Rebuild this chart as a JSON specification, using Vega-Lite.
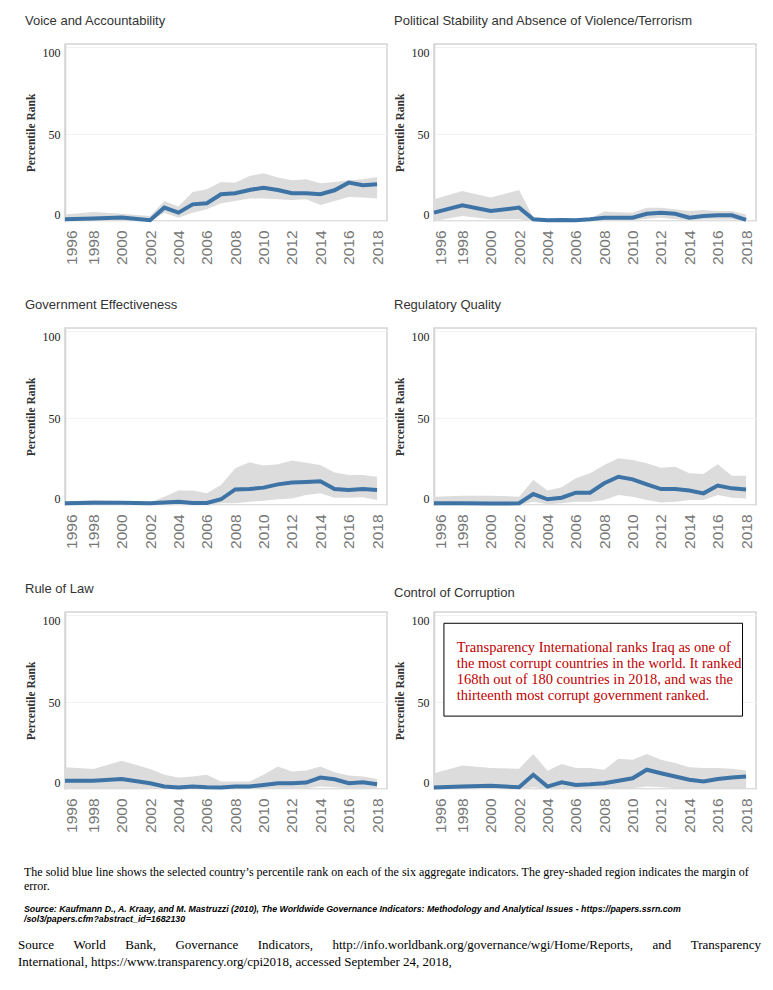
{
  "$schema": "https://vega.github.io/schema/vega-lite/v6.json",
  "background": "white",
  "padding": {"left": 18, "top": 14, "right": 0, "bottom": 0},
  "data": {
    "values": [
      {"indicator": "Voice and Accountability", "year": 1996, "rank": 1, "lower": 0, "upper": 3.8},
      {"indicator": "Voice and Accountability", "year": 1998, "rank": 1.5, "lower": 0, "upper": 5.2},
      {"indicator": "Voice and Accountability", "year": 2000, "rank": 2, "lower": 0, "upper": 4.2},
      {"indicator": "Voice and Accountability", "year": 2002, "rank": 0.5, "lower": 0, "upper": 2.9},
      {"indicator": "Voice and Accountability", "year": 2003, "rank": 7.7, "lower": 4.8, "upper": 11.5},
      {"indicator": "Voice and Accountability", "year": 2004, "rank": 4.8, "lower": 1.9, "upper": 8.3},
      {"indicator": "Voice and Accountability", "year": 2005, "rank": 9.6, "lower": 4.8, "upper": 16.7},
      {"indicator": "Voice and Accountability", "year": 2006, "rank": 10.2, "lower": 6.7, "upper": 18.3},
      {"indicator": "Voice and Accountability", "year": 2007, "rank": 15.4, "lower": 10.2, "upper": 22.5},
      {"indicator": "Voice and Accountability", "year": 2008, "rank": 16, "lower": 11.5, "upper": 22.1},
      {"indicator": "Voice and Accountability", "year": 2009, "rank": 17.9, "lower": 13, "upper": 26},
      {"indicator": "Voice and Accountability", "year": 2010, "rank": 19.2, "lower": 12.9, "upper": 27.5},
      {"indicator": "Voice and Accountability", "year": 2011, "rank": 17.9, "lower": 12.5, "upper": 25},
      {"indicator": "Voice and Accountability", "year": 2012, "rank": 16, "lower": 12.1, "upper": 23.5},
      {"indicator": "Voice and Accountability", "year": 2013, "rank": 16, "lower": 12.5, "upper": 24},
      {"indicator": "Voice and Accountability", "year": 2014, "rank": 15.4, "lower": 9.2, "upper": 21.7},
      {"indicator": "Voice and Accountability", "year": 2015, "rank": 17.7, "lower": 11.5, "upper": 22.5},
      {"indicator": "Voice and Accountability", "year": 2016, "rank": 22.1, "lower": 13.8, "upper": 23.5},
      {"indicator": "Voice and Accountability", "year": 2017, "rank": 20.6, "lower": 13.5, "upper": 24},
      {"indicator": "Voice and Accountability", "year": 2018, "rank": 21.2, "lower": 12.9, "upper": 25.4},

      {"indicator": "Political Stability", "year": 1996, "rank": 4.8, "lower": 0, "upper": 12.5},
      {"indicator": "Political Stability", "year": 1998, "rank": 9, "lower": 2.9, "upper": 17.3},
      {"indicator": "Political Stability", "year": 2000, "rank": 5.8, "lower": 1, "upper": 13.5},
      {"indicator": "Political Stability", "year": 2002, "rank": 7.7, "lower": 1, "upper": 17.9},
      {"indicator": "Political Stability", "year": 2003, "rank": 1, "lower": 0, "upper": 1.9},
      {"indicator": "Political Stability", "year": 2004, "rank": 0.4, "lower": 0, "upper": 1},
      {"indicator": "Political Stability", "year": 2005, "rank": 0.6, "lower": 0, "upper": 1},
      {"indicator": "Political Stability", "year": 2006, "rank": 0.4, "lower": 0, "upper": 1},
      {"indicator": "Political Stability", "year": 2007, "rank": 1, "lower": 0, "upper": 1.5},
      {"indicator": "Political Stability", "year": 2008, "rank": 1.9, "lower": 0.4, "upper": 5.5},
      {"indicator": "Political Stability", "year": 2009, "rank": 1.9, "lower": 0.5, "upper": 5},
      {"indicator": "Political Stability", "year": 2010, "rank": 1.9, "lower": 0.5, "upper": 4.8},
      {"indicator": "Political Stability", "year": 2011, "rank": 4.2, "lower": 1.3, "upper": 7.7},
      {"indicator": "Political Stability", "year": 2012, "rank": 4.8, "lower": 1.9, "upper": 7.7},
      {"indicator": "Political Stability", "year": 2013, "rank": 4.2, "lower": 1, "upper": 6.7},
      {"indicator": "Political Stability", "year": 2014, "rank": 1.9, "lower": 0.5, "upper": 5.8},
      {"indicator": "Political Stability", "year": 2015, "rank": 2.9, "lower": 0.8, "upper": 6.3},
      {"indicator": "Political Stability", "year": 2016, "rank": 3.3, "lower": 0.8, "upper": 5.8},
      {"indicator": "Political Stability", "year": 2017, "rank": 3.3, "lower": 0.8, "upper": 5.8},
      {"indicator": "Political Stability", "year": 2018, "rank": 0.6, "lower": 0, "upper": 3.8},

      {"indicator": "Government Effectiveness", "year": 1996, "rank": 1, "lower": 0, "upper": 1.9},
      {"indicator": "Government Effectiveness", "year": 1998, "rank": 1.3, "lower": 0, "upper": 2.9},
      {"indicator": "Government Effectiveness", "year": 2000, "rank": 1.3, "lower": 0, "upper": 2.3},
      {"indicator": "Government Effectiveness", "year": 2002, "rank": 1, "lower": 0, "upper": 1.5},
      {"indicator": "Government Effectiveness", "year": 2003, "rank": 1.5, "lower": 0, "upper": 4.8},
      {"indicator": "Government Effectiveness", "year": 2004, "rank": 1.9, "lower": 0, "upper": 8.3},
      {"indicator": "Government Effectiveness", "year": 2005, "rank": 1.2, "lower": 0, "upper": 8.3},
      {"indicator": "Government Effectiveness", "year": 2006, "rank": 1.2, "lower": 0, "upper": 6.7},
      {"indicator": "Government Effectiveness", "year": 2007, "rank": 3.3, "lower": 1, "upper": 11.5},
      {"indicator": "Government Effectiveness", "year": 2008, "rank": 9, "lower": 1, "upper": 21.2},
      {"indicator": "Government Effectiveness", "year": 2009, "rank": 9.2, "lower": 1.9, "upper": 24.6},
      {"indicator": "Government Effectiveness", "year": 2010, "rank": 10, "lower": 2.5, "upper": 22.7},
      {"indicator": "Government Effectiveness", "year": 2011, "rank": 11.9, "lower": 3.3, "upper": 23.5},
      {"indicator": "Government Effectiveness", "year": 2012, "rank": 12.9, "lower": 3.8, "upper": 25.6},
      {"indicator": "Government Effectiveness", "year": 2013, "rank": 13.3, "lower": 5.8, "upper": 24.4},
      {"indicator": "Government Effectiveness", "year": 2014, "rank": 13.7, "lower": 6.7, "upper": 23},
      {"indicator": "Government Effectiveness", "year": 2015, "rank": 9.2, "lower": 4.2, "upper": 18.7},
      {"indicator": "Government Effectiveness", "year": 2016, "rank": 8.7, "lower": 4.2, "upper": 17.3},
      {"indicator": "Government Effectiveness", "year": 2017, "rank": 9.2, "lower": 4.4, "upper": 17.3},
      {"indicator": "Government Effectiveness", "year": 2018, "rank": 8.7, "lower": 2.9, "upper": 16.3},

      {"indicator": "Regulatory Quality", "year": 1996, "rank": 1, "lower": 0, "upper": 4.8},
      {"indicator": "Regulatory Quality", "year": 1998, "rank": 1, "lower": 0, "upper": 5.4},
      {"indicator": "Regulatory Quality", "year": 2000, "rank": 0.8, "lower": 0, "upper": 5.4},
      {"indicator": "Regulatory Quality", "year": 2002, "rank": 1, "lower": 0, "upper": 4.8},
      {"indicator": "Regulatory Quality", "year": 2003, "rank": 6.3, "lower": 1.9, "upper": 14.4},
      {"indicator": "Regulatory Quality", "year": 2004, "rank": 3.3, "lower": 0.4, "upper": 8.3},
      {"indicator": "Regulatory Quality", "year": 2005, "rank": 4.2, "lower": 1, "upper": 10.2},
      {"indicator": "Regulatory Quality", "year": 2006, "rank": 7.1, "lower": 1.9, "upper": 15.4},
      {"indicator": "Regulatory Quality", "year": 2007, "rank": 7.1, "lower": 1.9, "upper": 18.3},
      {"indicator": "Regulatory Quality", "year": 2008, "rank": 12.5, "lower": 2.9, "upper": 23},
      {"indicator": "Regulatory Quality", "year": 2009, "rank": 16.3, "lower": 5.8, "upper": 26.9},
      {"indicator": "Regulatory Quality", "year": 2010, "rank": 14.8, "lower": 4.8, "upper": 26},
      {"indicator": "Regulatory Quality", "year": 2011, "rank": 11.9, "lower": 2.9, "upper": 24},
      {"indicator": "Regulatory Quality", "year": 2012, "rank": 9.2, "lower": 1.5, "upper": 21.5},
      {"indicator": "Regulatory Quality", "year": 2013, "rank": 9.2, "lower": 1.9, "upper": 22.1},
      {"indicator": "Regulatory Quality", "year": 2014, "rank": 8.3, "lower": 2.9, "upper": 18.3},
      {"indicator": "Regulatory Quality", "year": 2015, "rank": 6.7, "lower": 2.9, "upper": 17.9},
      {"indicator": "Regulatory Quality", "year": 2016, "rank": 11.2, "lower": 5.8, "upper": 23.5},
      {"indicator": "Regulatory Quality", "year": 2017, "rank": 9.6, "lower": 4.2, "upper": 16.9},
      {"indicator": "Regulatory Quality", "year": 2018, "rank": 9, "lower": 3.8, "upper": 16.9},

      {"indicator": "Rule of Law", "year": 1996, "rank": 4.8, "lower": 0, "upper": 12.5},
      {"indicator": "Rule of Law", "year": 1998, "rank": 4.8, "lower": 0, "upper": 11.5},
      {"indicator": "Rule of Law", "year": 2000, "rank": 5.8, "lower": 0, "upper": 16.3},
      {"indicator": "Rule of Law", "year": 2002, "rank": 3.3, "lower": 0, "upper": 11.5},
      {"indicator": "Rule of Law", "year": 2003, "rank": 1.4, "lower": 0, "upper": 8.2},
      {"indicator": "Rule of Law", "year": 2004, "rank": 0.8, "lower": 0, "upper": 6.6},
      {"indicator": "Rule of Law", "year": 2005, "rank": 1.4, "lower": 0, "upper": 7.2},
      {"indicator": "Rule of Law", "year": 2006, "rank": 1, "lower": 0, "upper": 8.2},
      {"indicator": "Rule of Law", "year": 2007, "rank": 0.8, "lower": 0, "upper": 4.3},
      {"indicator": "Rule of Law", "year": 2008, "rank": 1.4, "lower": 0, "upper": 4.3},
      {"indicator": "Rule of Law", "year": 2009, "rank": 1.4, "lower": 0, "upper": 4.3},
      {"indicator": "Rule of Law", "year": 2010, "rank": 2.3, "lower": 0, "upper": 8.2},
      {"indicator": "Rule of Law", "year": 2011, "rank": 3.3, "lower": 0, "upper": 13},
      {"indicator": "Rule of Law", "year": 2012, "rank": 3.3, "lower": 0.5, "upper": 10.1},
      {"indicator": "Rule of Law", "year": 2013, "rank": 3.7, "lower": 0.5, "upper": 10.7},
      {"indicator": "Rule of Law", "year": 2014, "rank": 6.6, "lower": 1.5, "upper": 13},
      {"indicator": "Rule of Law", "year": 2015, "rank": 5.6, "lower": 1, "upper": 9.7},
      {"indicator": "Rule of Law", "year": 2016, "rank": 3.3, "lower": 0.5, "upper": 7.8},
      {"indicator": "Rule of Law", "year": 2017, "rank": 3.9, "lower": 0.5, "upper": 7.2},
      {"indicator": "Rule of Law", "year": 2018, "rank": 2.7, "lower": 0, "upper": 5.8},

      {"indicator": "Control of Corruption", "year": 1996, "rank": 0.8, "lower": 0, "upper": 9.1},
      {"indicator": "Control of Corruption", "year": 1998, "rank": 1.4, "lower": 0, "upper": 13.6},
      {"indicator": "Control of Corruption", "year": 2000, "rank": 1.9, "lower": 0, "upper": 12.1},
      {"indicator": "Control of Corruption", "year": 2002, "rank": 1, "lower": 0, "upper": 11.7},
      {"indicator": "Control of Corruption", "year": 2003, "rank": 8.2, "lower": 1, "upper": 20.2},
      {"indicator": "Control of Corruption", "year": 2004, "rank": 1.4, "lower": 0, "upper": 10.5},
      {"indicator": "Control of Corruption", "year": 2005, "rank": 3.9, "lower": 0, "upper": 14.4},
      {"indicator": "Control of Corruption", "year": 2006, "rank": 2.3, "lower": 0, "upper": 12.1},
      {"indicator": "Control of Corruption", "year": 2007, "rank": 2.7, "lower": 0, "upper": 12.1},
      {"indicator": "Control of Corruption", "year": 2008, "rank": 3.3, "lower": 0, "upper": 11.1},
      {"indicator": "Control of Corruption", "year": 2009, "rank": 4.7, "lower": 0.5, "upper": 17.5},
      {"indicator": "Control of Corruption", "year": 2010, "rank": 6.2, "lower": 0.5, "upper": 16.9},
      {"indicator": "Control of Corruption", "year": 2011, "rank": 11.1, "lower": 1.4, "upper": 20.2},
      {"indicator": "Control of Corruption", "year": 2012, "rank": 9.1, "lower": 1, "upper": 16.9},
      {"indicator": "Control of Corruption", "year": 2013, "rank": 7.2, "lower": 0.5, "upper": 15},
      {"indicator": "Control of Corruption", "year": 2014, "rank": 5.3, "lower": 0.5, "upper": 12.5},
      {"indicator": "Control of Corruption", "year": 2015, "rank": 4.3, "lower": 0.5, "upper": 12.1},
      {"indicator": "Control of Corruption", "year": 2016, "rank": 5.8, "lower": 0.5, "upper": 12.1},
      {"indicator": "Control of Corruption", "year": 2017, "rank": 6.6, "lower": 0.5, "upper": 11.7},
      {"indicator": "Control of Corruption", "year": 2018, "rank": 7.2, "lower": 0.5, "upper": 10.7}
    ]
  },
  "title": {
    "text": [
      "Source \u00a0\u00a0\u00a0\u00a0\u00a0World \u00a0\u00a0\u00a0\u00a0\u00a0Bank, \u00a0\u00a0\u00a0\u00a0\u00a0Governance \u00a0\u00a0\u00a0\u00a0\u00a0Indicators, \u00a0\u00a0\u00a0\u00a0\u00a0http://info.worldbank.org/governance/wgi/Home/Reports, \u00a0\u00a0\u00a0\u00a0\u00a0and \u00a0\u00a0\u00a0\u00a0\u00a0Transparency",
      "International, https://www.transparency.org/cpi2018, accessed September 24, 2018,"
    ],
    "orient": "bottom",
    "anchor": "start",
    "font": "Liberation Serif",
    "fontSize": 13,
    "fontWeight": "normal",
    "color": "#000",
    "lineHeight": 16.5,
    "offset": -5,
    "dx": -6
  },
  "spacing": 32,
  "vconcat": [
    {
      "spacing": 5,
      "hconcat": [
        {
          "title": "Voice and Accountability",
          "width": 322, "height": 177,
          "transform": [{"filter": "datum.indicator === 'Voice and Accountability'"}],
          "encoding": {
            "x": {"field": "year", "type": "quantitative", "title": null,
              "scale": {"domain": [1996, 2018.7], "nice": false, "zero": false},
              "axis": {"values": [1996, 1998, 2000, 2002, 2004, 2006, 2008, 2010, 2012, 2014, 2016, 2018], "format": "d",
                "labelOffset": {"condition": {"test": "datum.value === 1996", "value": 6}, "value": 0}}}
          },
          "layer": [
            {"mark": {"type": "area", "color": "#dcdcdc"},
              "encoding": {
                "y": {"field": "lower", "type": "quantitative", "title": "Percentile Rank",
                  "scale": {"domain": [0, 102], "nice": false},
                  "axis": {"values": [0, 50, 100],
                    "labelBaseline": {"condition": [{"test": "datum.value === 100", "value": "top"}, {"test": "datum.value === 0", "value": "bottom"}], "value": "middle"}}},
                "y2": {"field": "upper"}
              }},
            {"mark": {"type": "line", "color": "#3e73a5", "strokeWidth": 4},
              "encoding": {"y": {"field": "rank", "type": "quantitative", "title": "Percentile Rank"}}}
          ]
        },
        {
          "title": "Political Stability and Absence of Violence/Terrorism",
          "width": 322, "height": 177,
          "transform": [{"filter": "datum.indicator === 'Political Stability'"}],
          "encoding": {
            "x": {"field": "year", "type": "quantitative", "title": null,
              "scale": {"domain": [1996, 2018.7], "nice": false, "zero": false},
              "axis": {"values": [1996, 1998, 2000, 2002, 2004, 2006, 2008, 2010, 2012, 2014, 2016, 2018], "format": "d",
                "labelOffset": {"condition": {"test": "datum.value === 1996", "value": 6}, "value": 0}}}
          },
          "layer": [
            {"mark": {"type": "area", "color": "#dcdcdc"},
              "encoding": {
                "y": {"field": "lower", "type": "quantitative", "title": "Percentile Rank",
                  "scale": {"domain": [0, 102], "nice": false},
                  "axis": {"values": [0, 50, 100],
                    "labelBaseline": {"condition": [{"test": "datum.value === 100", "value": "top"}, {"test": "datum.value === 0", "value": "bottom"}], "value": "middle"}}},
                "y2": {"field": "upper"}
              }},
            {"mark": {"type": "line", "color": "#3e73a5", "strokeWidth": 4},
              "encoding": {"y": {"field": "rank", "type": "quantitative", "title": "Percentile Rank"}}}
          ]
        }
      ]
    },
    {
      "spacing": 5,
      "hconcat": [
        {
          "title": "Government Effectiveness",
          "width": 322, "height": 177,
          "transform": [{"filter": "datum.indicator === 'Government Effectiveness'"}],
          "encoding": {
            "x": {"field": "year", "type": "quantitative", "title": null,
              "scale": {"domain": [1996, 2018.7], "nice": false, "zero": false},
              "axis": {"values": [1996, 1998, 2000, 2002, 2004, 2006, 2008, 2010, 2012, 2014, 2016, 2018], "format": "d",
                "labelOffset": {"condition": {"test": "datum.value === 1996", "value": 6}, "value": 0}}}
          },
          "layer": [
            {"mark": {"type": "area", "color": "#dcdcdc"},
              "encoding": {
                "y": {"field": "lower", "type": "quantitative", "title": "Percentile Rank",
                  "scale": {"domain": [0, 102], "nice": false},
                  "axis": {"values": [0, 50, 100],
                    "labelBaseline": {"condition": [{"test": "datum.value === 100", "value": "top"}, {"test": "datum.value === 0", "value": "bottom"}], "value": "middle"}}},
                "y2": {"field": "upper"}
              }},
            {"mark": {"type": "line", "color": "#3e73a5", "strokeWidth": 4},
              "encoding": {"y": {"field": "rank", "type": "quantitative", "title": "Percentile Rank"}}}
          ]
        },
        {
          "title": "Regulatory Quality",
          "width": 322, "height": 177,
          "transform": [{"filter": "datum.indicator === 'Regulatory Quality'"}],
          "encoding": {
            "x": {"field": "year", "type": "quantitative", "title": null,
              "scale": {"domain": [1996, 2018.7], "nice": false, "zero": false},
              "axis": {"values": [1996, 1998, 2000, 2002, 2004, 2006, 2008, 2010, 2012, 2014, 2016, 2018], "format": "d",
                "labelOffset": {"condition": {"test": "datum.value === 1996", "value": 6}, "value": 0}}}
          },
          "layer": [
            {"mark": {"type": "area", "color": "#dcdcdc"},
              "encoding": {
                "y": {"field": "lower", "type": "quantitative", "title": "Percentile Rank",
                  "scale": {"domain": [0, 102], "nice": false},
                  "axis": {"values": [0, 50, 100],
                    "labelBaseline": {"condition": [{"test": "datum.value === 100", "value": "top"}, {"test": "datum.value === 0", "value": "bottom"}], "value": "middle"}}},
                "y2": {"field": "upper"}
              }},
            {"mark": {"type": "line", "color": "#3e73a5", "strokeWidth": 4},
              "encoding": {"y": {"field": "rank", "type": "quantitative", "title": "Percentile Rank"}}}
          ]
        }
      ]
    },
    {
      "spacing": 5,
      "hconcat": [
        {
          "title": "Rule of Law",
          "width": 322, "height": 177,
          "transform": [{"filter": "datum.indicator === 'Rule of Law'"}],
          "encoding": {
            "x": {"field": "year", "type": "quantitative", "title": null,
              "scale": {"domain": [1996, 2018.7], "nice": false, "zero": false},
              "axis": {"values": [1996, 1998, 2000, 2002, 2004, 2006, 2008, 2010, 2012, 2014, 2016, 2018], "format": "d",
                "labelOffset": {"condition": {"test": "datum.value === 1996", "value": 6}, "value": 0}}}
          },
          "layer": [
            {"mark": {"type": "area", "color": "#dcdcdc"},
              "encoding": {
                "y": {"field": "lower", "type": "quantitative", "title": "Percentile Rank",
                  "scale": {"domain": [0, 102], "nice": false},
                  "axis": {"values": [0, 50, 100],
                    "labelBaseline": {"condition": [{"test": "datum.value === 100", "value": "top"}, {"test": "datum.value === 0", "value": "bottom"}], "value": "middle"}}},
                "y2": {"field": "upper"}
              }},
            {"mark": {"type": "line", "color": "#3e73a5", "strokeWidth": 4},
              "encoding": {"y": {"field": "rank", "type": "quantitative", "title": "Percentile Rank"}}}
          ]
        },
        {
          "title": {"text": "Control of Corruption", "offset": 12},
          "width": 322, "height": 177,
          "layer": [
            {
              "transform": [{"filter": "datum.indicator === 'Control of Corruption'"}],
              "encoding": {
                "x": {"field": "year", "type": "quantitative", "title": null,
                  "scale": {"domain": [1996, 2018.7], "nice": false, "zero": false},
                  "axis": {"values": [1996, 1998, 2000, 2002, 2004, 2006, 2008, 2010, 2012, 2014, 2016, 2018], "format": "d",
                    "labelOffset": {"condition": {"test": "datum.value === 1996", "value": 6}, "value": 0}}}
              },
              "layer": [
                {"mark": {"type": "area", "color": "#dcdcdc"},
                  "encoding": {
                    "y": {"field": "lower", "type": "quantitative", "title": "Percentile Rank",
                      "scale": {"domain": [0, 102], "nice": false},
                      "axis": {"values": [0, 50, 100],
                        "labelBaseline": {"condition": [{"test": "datum.value === 100", "value": "top"}, {"test": "datum.value === 0", "value": "bottom"}], "value": "middle"}}},
                    "y2": {"field": "upper"}
                  }},
                {"mark": {"type": "line", "color": "#3e73a5", "strokeWidth": 4},
                  "encoding": {"y": {"field": "rank", "type": "quantitative", "title": "Percentile Rank"}}}
              ]
            },
            {
              "data": {"values": [{"note": [
                "Transparency International ranks Iraq as one of",
                "the most corrupt countries in the world. It ranked",
                "168th out of 180 countries in 2018, and was the",
                "thirteenth most corrupt government ranked."
              ]}]},
              "layer": [
                {"mark": {"type": "rect", "fill": "white", "stroke": "black", "strokeWidth": 1},
                  "encoding": {
                    "x": {"datum": 1996.7, "title": null,
                      "axis": {"values": [1996, 1998, 2000, 2002, 2004, 2006, 2008, 2010, 2012, 2014, 2016, 2018], "format": "d",
                        "labelOffset": {"condition": {"test": "datum.value === 1996", "value": 6}, "value": 0}}},
                    "x2": {"datum": 2017.75},
                    "y": {"datum": 95.5, "title": "Percentile Rank"}, "y2": {"datum": 42}
                  }},
                {"mark": {"type": "text", "align": "left", "baseline": "middle", "font": "Liberation Serif", "fontSize": 14.5, "color": "#c00000", "lineHeight": 16.3},
                  "encoding": {
                    "x": {"datum": 1997.6, "title": null,
                      "axis": {"values": [1996, 1998, 2000, 2002, 2004, 2006, 2008, 2010, 2012, 2014, 2016, 2018], "format": "d",
                        "labelOffset": {"condition": {"test": "datum.value === 1996", "value": 6}, "value": 0}}},
                    "y": {"datum": 81.5, "title": "Percentile Rank"},
                    "text": {"field": "note"}
                  }}
              ]
            }
          ]
        }
      ]
    },
    {
      "width": 740,
      "height": 1,
      "data": {"values": []},
      "mark": "point",
      "view": {"stroke": null},
      "title": {
        "text": [
          "The solid blue line shows the selected country’s percentile rank on each of the six aggregate indicators.  The grey-shaded region indicates the margin of",
          "error."
        ],
        "font": "Liberation Serif",
        "fontSize": 12,
        "fontWeight": "normal",
        "color": "#000",
        "lineHeight": 14,
        "offset": 0,
        "dx": -41,
        "dy": -18,
        "subtitle": [
          "Source: Kaufmann D., A. Kraay, and M. Mastruzzi (2010), The Worldwide Governance Indicators: Methodology and Analytical Issues - https://papers.ssrn.com",
          "/sol3/papers.cfm?abstract_id=1682130"
        ],
        "subtitleFont": "Liberation Sans",
        "subtitleFontSize": 8.8,
        "subtitleFontStyle": "italic",
        "subtitleFontWeight": "bold",
        "subtitleColor": "#000",
        "subtitleLineHeight": 10,
        "subtitlePadding": 12
      }
    }
  ],
  "config": {
    "font": "Liberation Sans",
    "view": {"stroke": "#d4d4d4", "strokeWidth": 1.5},
    "title": {
      "font": "Liberation Sans",
      "fontSize": 13,
      "fontWeight": "normal",
      "color": "#333",
      "anchor": "start",
      "offset": 16
    },
    "axisX": {
      "labelAngle": -90,
      "labelFont": "Liberation Sans",
      "labelFontSize": 15.5,
      "labelColor": "#777",
      "labelPadding": 9,
      "labelOverlap": false,
      "labelFlush": false,
      "labelBound": false,
      "ticks": false,
      "domain": false,
      "grid": false
    },
    "axisY": {
      "labelFont": "Liberation Serif",
      "labelFontSize": 12,
      "labelColor": "#222",
      "labelPadding": 5,
      "ticks": false,
      "domainColor": "#d4d4d4",
      "domainWidth": 1.5,
      "gridColor": "#f2f2f2",
      "titleFont": "Liberation Serif",
      "titleFontSize": 11.5,
      "titleFontWeight": "bold",
      "titleColor": "#333",
      "titlePadding": 6
    }
  }
}
